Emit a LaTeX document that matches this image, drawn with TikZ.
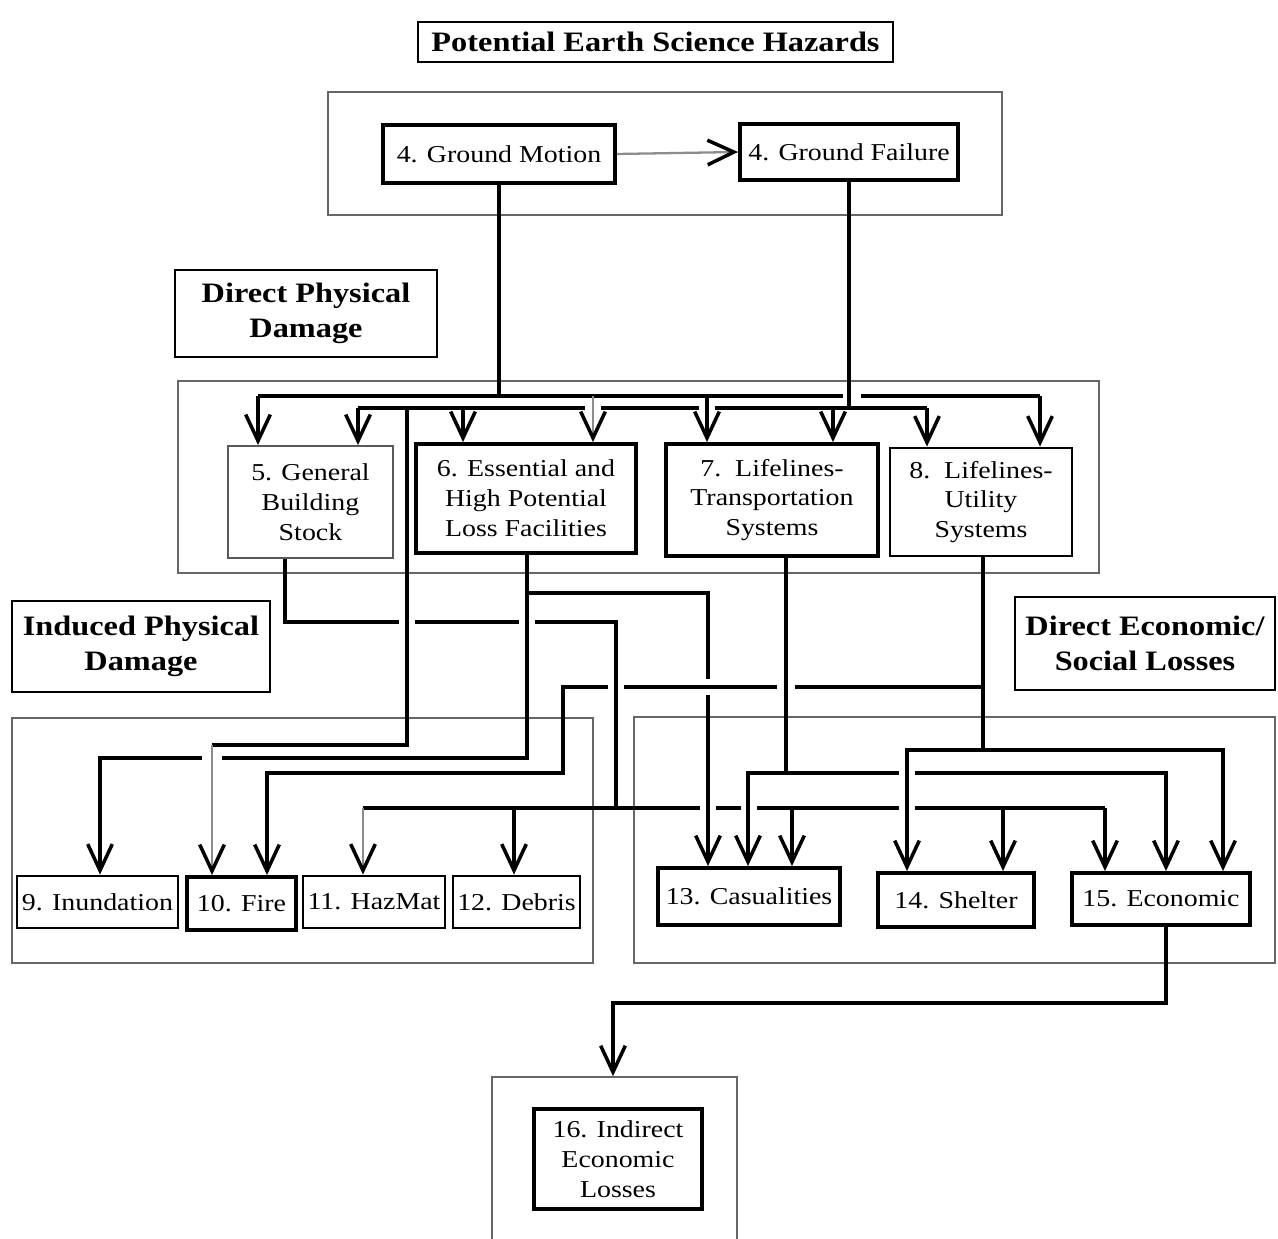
\documentclass[tikz,border=0pt]{standalone}
\usepackage{fontspec}
\setmainfont{Liberation Serif}[FakeStretch=1.15]
\usetikzlibrary{arrows.meta}

\tikzset{
  span/.style 2 args={minimum width=#1*0.02cm, minimum height=#2*0.02cm},
  box/.style={draw, inner sep=0pt, align=center, font=\fontsize{13.8}{17}\selectfont},
  heavy/.style={box, line width=2.2pt},
  medium/.style={box, line width=1.6pt},
  light/.style={box, draw=black!65, line width=1.1pt},
  title/.style={draw, line width=1.4pt, inner sep=0pt, align=center,
    font=\fontsize{16}{20}\selectfont\bfseries},
  group/.style={draw=black!60, line width=0.9pt, inner sep=0pt},
  wire/.style={line width=2pt},
  faint/.style={draw=black!45, line width=1.3pt},
  >={Straight Barb[length=15pt, width=14pt, line width=2pt, color=black]}
}

\begin{document}
\begin{tikzpicture}[x=0.02cm, y=-0.02cm]
  \useasboundingbox (0, 0) rectangle (1278, 1239);
  % Headings of the four stages
  \node[title, span={475}{40}] (hazards) at (655.5,42) {Potential Earth Science Hazards};
  \node[title, span={262}{87}] (physical) at (306,313.5) {Direct Physical\\Damage};
  \node[title, span={258}{91}] (induced) at (141,646.5) {Induced Physical\\Damage};
  \node[title, span={260}{93}] (social) at (1145,643.5) {Direct Economic/\\Social Losses};

  % Frames around each stage
  \node[group, span={674}{123}] (hazardgrp) at (665,153.5) {};
  \node[group, span={921}{192}] (damagegrp) at (638.5,477) {};
  \node[group, span={581}{245}] (inducedgrp) at (302.5,840.5) {};
  \node[group, span={641}{246}] (lossgrp) at (954.5,840) {};
  \node[group, span={245}{213}] (indirectgrp) at (614.5,1183.5) {};

  % Modules
  \node[heavy, span={232}{58}] (gm) at (499,154) {4. Ground Motion};
  \node[heavy, span={218}{56}] (gf) at (849,152) {4. Ground Failure};
  \node[light, span={165}{112}] (bldg) at (310.5,502) {5. General\\Building\\Stock};
  \node[heavy, span={220}{109}] (essential) at (526,498.5) {6. Essential and\\High Potential\\Loss Facilities};
  \node[heavy, span={212}{112}] (transp) at (772,500) {7.\ \ Lifelines-\\Transportation\\Systems};
  \node[medium, span={182}{108}] (utility) at (981,502) {8.\ \ Lifelines-\\Utility\\Systems};
  \node[medium, span={161}{52}] (flood) at (97.5,902) {9. Inundation};
  \node[heavy, span={109}{53}] (fire) at (241.5,903.5) {10. Fire};
  \node[medium, span={142}{52}] (hazmat) at (374,902) {11. HazMat};
  \node[medium, span={127}{52}] (debris) at (516.5,902) {12. Debris};
  \node[heavy, span={182}{57}] (casualty) at (749,896.5) {13. Casualities};
  \node[heavy, span={156}{54}] (shelter) at (956,900) {14. Shelter};
  \node[heavy, span={178}{52}] (economic) at (1161,899) {15. Economic};
  \node[heavy, span={168}{100}] (indirect) at (618,1159) {16. Indirect\\Economic\\Losses};

  \draw[faint, ->] (gm.east) -- (gf.west);

  % Ground motion and ground failure buses, gaps where they cross
  \begin{scope}[wire]
    \draw (gm.south) -- (gm.south |- 0,396) (258,396) -- (843,396) (861,396) -- (1040,396);
    \draw (gf.south) -- (gf.south |- 0,408) (358,408) -- (585,408) (601,408) -- (699,408)
      (715,408) -- (927,408);
    \draw[->] (258,396) -- (bldg.north -| 258,0);
    \draw[->] (707,396) -- (transp.north -| 707,0);
    \draw[->] (1040,396) -- (utility.north -| 1040,0);
    \draw[->] (358,408) -- (bldg.north -| 358,0);
    \draw[->] (463,408) -- (essential.north -| 463,0);
    \draw[->] (833,408) -- (transp.north -| 833,0);
    \draw[->] (927,408) -- (utility.north -| 927,0);
    \draw (407,408) -- (407,745) -- (212,745);
  \end{scope}
  \draw[faint, ->] (593,396) -- (essential.north -| 593,0);
  \draw[faint, ->] (212,745) -- (fire.north -| 212,0);

  % Building stock feeds the lower bus
  \begin{scope}[wire]
    \draw (bldg.south -| 285,0) -- (285,622) -- (399,622) (415,622) -- (519,622)
      (535,622) -- (616,622) -- (616,808);
    \draw (363,808) -- (700,808) (716,808) -- (741,808) (757,808) -- (899,808)
      (915,808) -- (1105,808);
    \draw[->] (514,808) -- (debris.north -| 514,0);
    \draw[->] (792,808) -- (casualty.north -| 792,0);
    \draw[->] (1003,808) -- (shelter.north -| 1003,0);
    \draw[->] (1105,808) -- (economic.north -| 1105,0);
  \end{scope}
  \draw[faint, ->] (363,808) -- (hazmat.north -| 363,0);

  % Essential facilities, lifelines and the economic chain
  \begin{scope}[wire]
    \draw[->] (essential.south -| 527,0) -- (527,758) -- (222,758) (202,758) -- (100,758)
      -- (flood.north -| 100,0);
    \draw[->] (527,593) -- (708,593) -- (708,679) (708,695) -- (casualty.north -| 708,0);
    \draw[->] (transp.south -| 786,0) -- (786,773) -| (casualty.north -| 748,0);
    \draw[->] (786,773) -- (899,773) (915,773) -| (economic.north -| 1166,0);
    \draw (utility.south -| 983,0) -- (983,750);
    \draw[<->] (shelter.north -| 907,0) |- (1223,750) -- (economic.north -| 1223,0);
    \draw[->] (983,687) -- (795,687) (777,687) -- (624,687) (608,687) -- (563,687)
      -- (563,773) -- (267,773) -- (fire.north -| 267,0);
    \draw[->] (economic.south -| 1166,0) |- (613,1003) -- (indirectgrp.north -| 613,0);
  \end{scope}
\end{tikzpicture}
\end{document}
